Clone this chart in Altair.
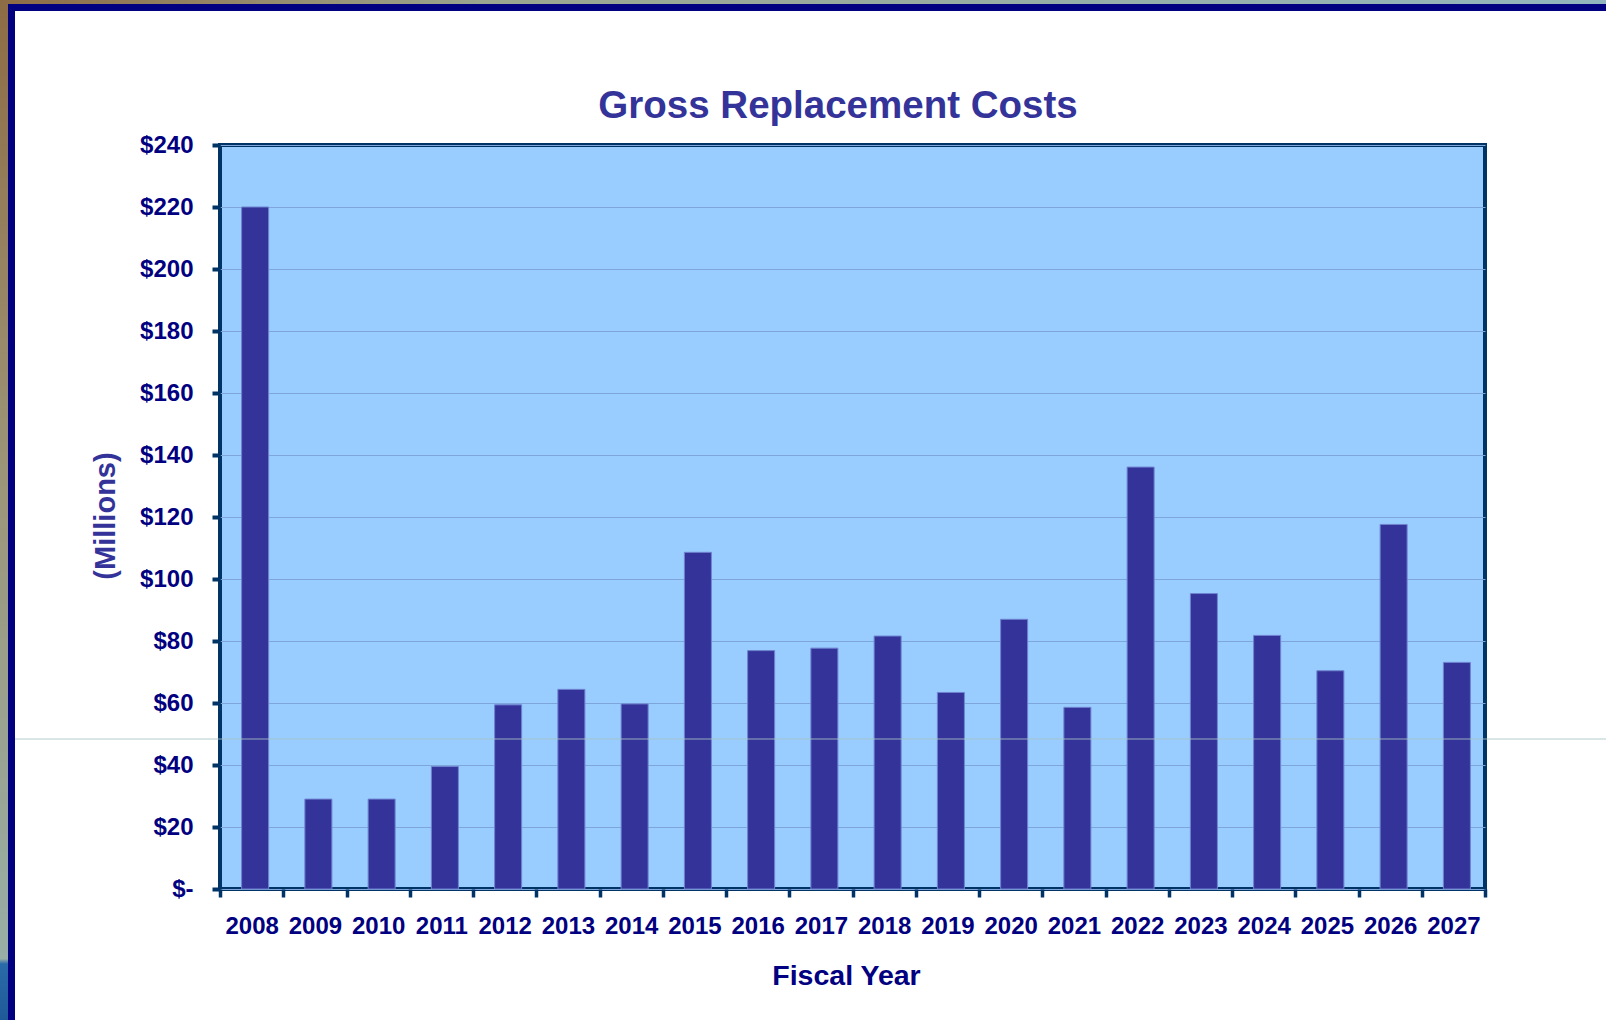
import altair as alt
import pandas as pd

# ---- data ----
years = [str(y) for y in range(2008, 2028)]
costs = [220.0, 29.0, 29.0, 39.5, 59.4, 64.4, 59.7, 108.6, 76.9, 77.7,
         81.6, 63.4, 87.0, 58.6, 136.1, 95.3, 81.8, 70.4, 117.6, 73.1]
y_ticks = list(range(0, 241, 20))

title_text = "Gross Replacement Costs"
y_title = "(Millions)"
x_title = "Fiscal Year"

df = pd.DataFrame({"year": years, "cost": costs})

W, H = 1265, 744
FONT = "Liberation Sans"
NAVY = "#000080"
PURPLE = "#333399"
AXIS = "#003366"

one = pd.DataFrame({"a": [0]})

# decorative slide frame
left_strip = alt.Chart(one).mark_rect(
    fill=alt.Gradient(gradient="linear", x1=0, x2=0, y1=0, y2=1,
                      stops=[alt.GradientStop(offset=0, color="#8D6C45"),
                             alt.GradientStop(offset=0.45, color="#9C9477"),
                             alt.GradientStop(offset=0.94, color="#98AEA6"),
                             alt.GradientStop(offset=0.945, color="#2A6AAA"),
                             alt.GradientStop(offset=1, color="#1F5A98")])
).encode(x=alt.value(-220), x2=alt.value(-212), y=alt.value(-145), y2=alt.value(875))

top_strip = alt.Chart(one).mark_rect(
    fill=alt.Gradient(gradient="linear", x1=0, x2=1, y1=0, y2=0,
                      stops=[alt.GradientStop(offset=0, color="#8D6C45"),
                             alt.GradientStop(offset=0.3, color="#9BA58F"),
                             alt.GradientStop(offset=1, color="#92B6BE")])
).encode(x=alt.value(-220), x2=alt.value(1386), y=alt.value(-145), y2=alt.value(-141))

left_navy = alt.Chart(one).mark_rect(color=NAVY).encode(
    x=alt.value(-212), x2=alt.value(-205), y=alt.value(-141), y2=alt.value(875))
top_navy = alt.Chart(one).mark_rect(color=NAVY).encode(
    x=alt.value(-212), x2=alt.value(1386), y=alt.value(-141), y2=alt.value(-134))

bars = alt.Chart(df).mark_bar(
    size=27, xOffset=3.5, color=PURPLE, stroke="#6F83CF", strokeWidth=1
).encode(
    x=alt.X("year:N", sort=years,
            scale=alt.Scale(paddingInner=0, paddingOuter=0),
            axis=alt.Axis(title=x_title, titleX=626, titleY=95,
                          titleBaseline="alphabetic", titleAlign="center",
                          titleFont=FONT, titleFontSize=28.5, titleFontWeight="bold",
                          titleColor=NAVY,
                          labelAngle=0, labelFont=FONT, labelFontSize=24,
                          labelFontWeight="bold", labelColor=NAVY, labelPadding=17,
                          tickBand="extent", tickSize=8, tickWidth=3.5,
                          tickColor=AXIS, domain=False, grid=False)),
    y=alt.Y("cost:Q",
            scale=alt.Scale(domain=[0, 240], nice=False),
            axis=alt.Axis(values=y_ticks,
                          labelExpr="datum.value == 0 ? '$-' : '$' + datum.value",
                          labelFont=FONT, labelFontSize=24, labelFontWeight="bold",
                          labelColor=NAVY, labelPadding=19,
                          tickSize=8, tickWidth=4, tickColor=AXIS, domain=False,
                          grid=True, gridColor="#7FA6DA", gridWidth=1,
                          title=y_title, titleX=-115, titleY=370.5,
                          titleBaseline="middle", titleAlign="center",
                          titleFont=FONT, titleFontSize=29, titleFontWeight="bold",
                          titleColor=PURPLE)),
)

artifact = alt.Chart(one).mark_rule(color="#A8C2C4", strokeWidth=1.2, opacity=0.85).encode(
    x=alt.value(-205), x2=alt.value(1386), y=alt.value(594))

title = alt.Chart(one).mark_text(
    text=title_text, font=FONT, fontSize=38.5, fontWeight="bold", color=PURPLE,
    align="center", baseline="alphabetic"
).encode(x=alt.value(618), y=alt.value(-27))

chart = alt.layer(left_strip, top_strip, left_navy, top_navy, bars, artifact, title).properties(
    width=W, height=H,
    autosize=alt.AutoSizeParams(type="none"),
    padding={"left": 220, "top": 145, "right": 121, "bottom": 131},
    background="white",
).configure_view(
    fill="#99CCFF", stroke=AXIS, strokeWidth=4
)

chart.save("out.html", embed_options={"renderer": "svg", "actions": False})
